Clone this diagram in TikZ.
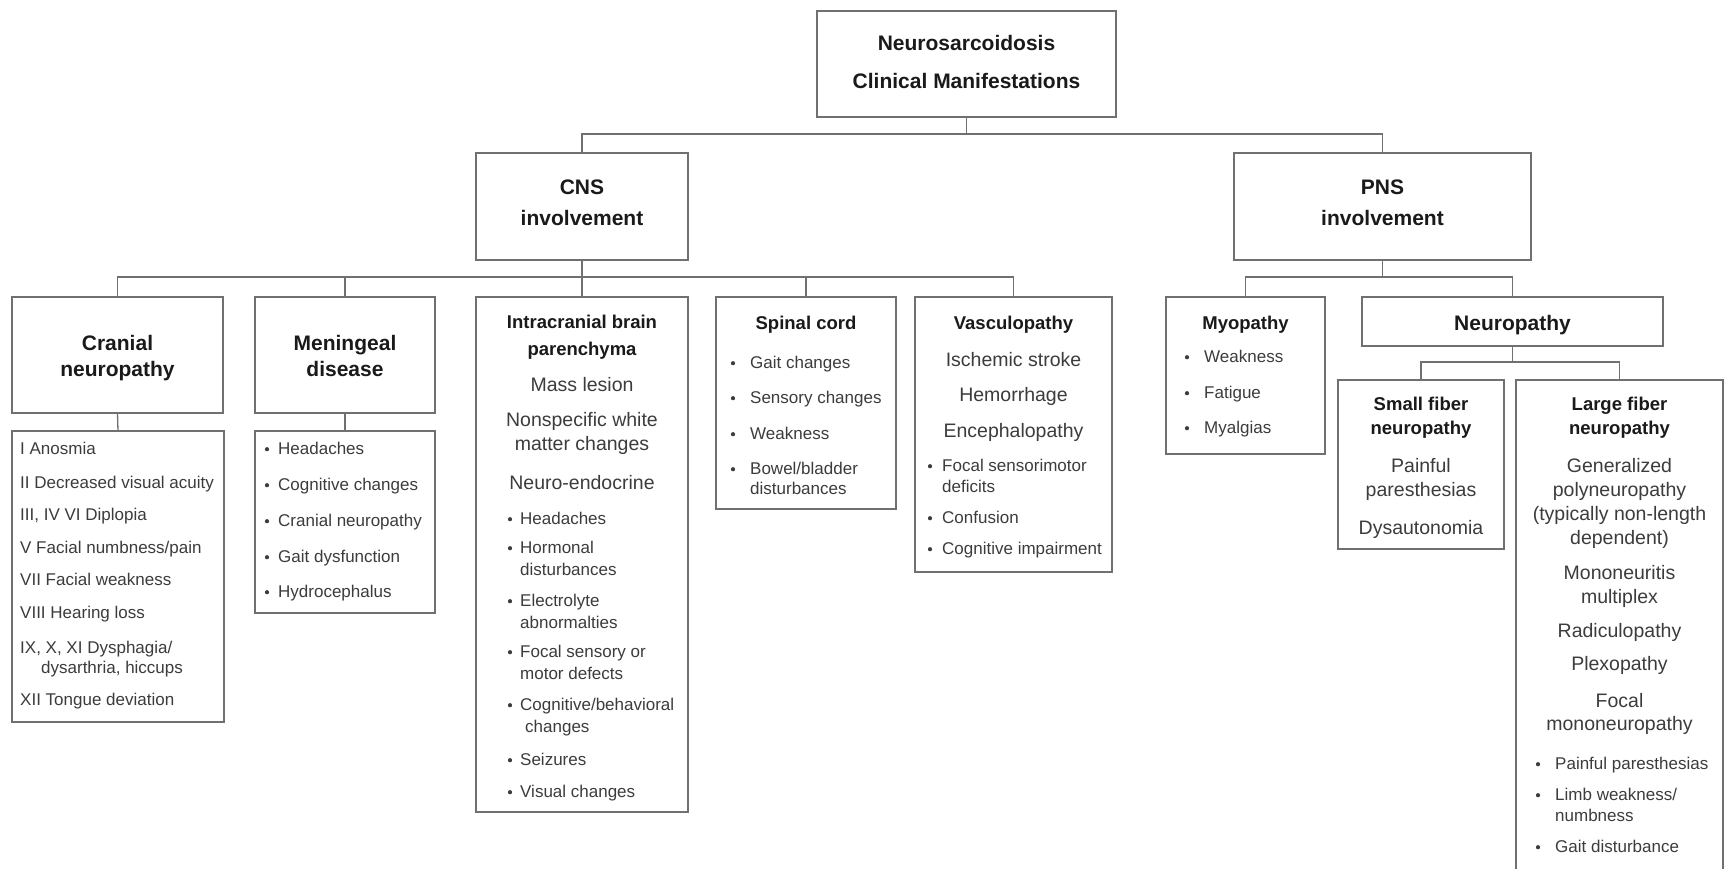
\documentclass[tikz,border=0pt]{standalone}
\usepackage{fontspec}
\setmainfont{Liberation Sans}
\definecolor{ln}{HTML}{707070}
\definecolor{tx}{HTML}{3C3C3C}
\definecolor{hx}{HTML}{1A1A1A}
\tikzset{
  box/.style={draw=ln, line width=1.3pt, fill=white, anchor=north west, inner sep=0pt, outer sep=0pt},
  conn/.style={draw=ln, line width=1.3pt},
  hdL/.style={font=\bfseries\fontsize{21}{24}\selectfont, text=hx, anchor=base, inner sep=0pt},
  hdS/.style={font=\bfseries\fontsize{18.5}{22}\selectfont, text=hx, anchor=base, inner sep=0pt},
  ct/.style={font=\fontsize{19.5}{23}\selectfont, text=tx, anchor=base, inner sep=0pt},
  li/.style={font=\fontsize{17}{20}\selectfont, text=tx, anchor=base west, inner sep=0pt},
}
\newcommand\pitem[4]{\node[li] (#1) at (#2,-#3) {#4};}
\newcommand\bitem[5]{\fill[tx] (#2,-#4+4.8) circle (2.1pt); \node[li] (#1) at (#3,-#4) {#5};}
\newcommand\citem[5]{\node[#2] (#1) at (#3,-#4) {#5};}
\begin{document}
\begin{tikzpicture}[x=1pt,y=1pt]
\useasboundingbox (0,0) rectangle (1725,-868);
\fill[white] (0,0) rectangle (1725,-868);
\clip (0,0) rectangle (1725,-868);

% boxes
\node[box, minimum width=299pt, minimum height=106pt] (root) at (817,-11) {};
\node[box, minimum width=212pt, minimum height=107pt] (cns) at (476,-153) {};
\node[box, minimum width=297pt, minimum height=107pt] (pns) at (1234,-153) {};
\node[box, minimum width=211pt, minimum height=116pt] (cran) at (12,-297) {};
\node[box, minimum width=212pt, minimum height=291pt] (cranL) at (12,-431) {};
\node[box, minimum width=180pt, minimum height=116pt] (men) at (255,-297) {};
\node[box, minimum width=180pt, minimum height=182pt] (menL) at (255,-431) {};
\node[box, minimum width=212pt, minimum height=515pt] (intra) at (476,-297) {};
\node[box, minimum width=180pt, minimum height=212pt] (spin) at (716,-297) {};
\node[box, minimum width=197pt, minimum height=275pt] (vasc) at (915,-297) {};
\node[box, minimum width=159pt, minimum height=157pt] (myo) at (1166,-297) {};
\node[box, minimum width=301pt, minimum height=49pt] (neu) at (1362,-297) {};
\node[box, minimum width=166pt, minimum height=169pt] (small) at (1338,-380) {};
\node[box, minimum width=207pt, minimum height=510pt] (large) at (1516,-380) {};

% connectors
\coordinate (j0) at (0,-134);
\coordinate (j1) at (0,-277);
\coordinate (j2) at (0,-362);
\draw[conn] (root.south) -- (root.south |- j0);
\draw[conn] (cns.north) |- (j0 -| pns.north) -- (pns.north);
\draw[conn] (cns.south) -- (intra.north);
\draw[conn] (cran.north) |- (j1 -| vasc.north) -- (vasc.north);
\draw[conn] (men.north) -- (men.north |- j1);
\draw[conn] (spin.north) -- (spin.north |- j1);
\draw[conn] (cran.south) -- (cranL.north);
\draw[conn] (men.south) -- (menL.north);
\draw[conn] (pns.south) -- (pns.south |- j1);
\draw[conn] (myo.north) |- (j1 -| neu.north) -- (neu.north);
\draw[conn] (neu.south) -- (neu.south |- j2);
\draw[conn] (small.north) |- (j2 -| large.north) -- (large.north);

% root
\citem{r1}{hdL}{966.5}{50}{Neurosarcoidosis}
\citem{r2}{hdL}{966.5}{88}{Clinical Manifestations}
% CNS / PNS
\citem{cn1}{hdL}{582}{194}{CNS}
\citem{cn2}{hdL}{582}{225}{involvement}
\citem{pn1}{hdL}{1382.5}{194}{PNS}
\citem{pn2}{hdL}{1382.5}{225}{involvement}

% cranial neuropathy
\citem{cr1}{hdL}{117.5}{350}{Cranial}
\citem{cr2}{hdL}{117.5}{376}{neuropathy}
\pitem{c1}{20}{454}{I Anosmia}
\pitem{c2}{20}{488}{II Decreased visual acuity}
\pitem{c3}{20}{520}{III, IV VI Diplopia}
\pitem{c4}{20}{553}{V Facial numbness/pain}
\pitem{c5}{20}{585}{VII Facial weakness}
\pitem{c6}{20}{618}{VIII Hearing loss}
\pitem{c7}{20}{653}{IX, X, XI Dysphagia/}
\pitem{c7b}{41}{673}{dysarthria, hiccups}
\pitem{c8}{20}{705}{XII Tongue deviation}

% meningeal disease
\citem{me1}{hdL}{345}{350}{Meningeal}
\citem{me2}{hdL}{345}{376}{disease}
\bitem{m1}{267}{278}{454}{Headaches}
\bitem{m2}{267}{278}{490}{Cognitive changes}
\bitem{m3}{267}{278}{526}{Cranial neuropathy}
\bitem{m4}{267}{278}{562}{Gait dysfunction}
\bitem{m5}{267}{278}{597}{Hydrocephalus}

% intracranial
\citem{in1}{hdS}{582}{328.5}{Intracranial brain}
\citem{in2}{hdS}{582}{355}{parenchyma}
\citem{in3}{ct}{582}{391}{Mass lesion}
\citem{in4}{ct}{582}{426}{Nonspecific white}
\citem{in5}{ct}{582}{450}{matter changes}
\citem{in6}{ct}{582}{489}{Neuro-endocrine}
\bitem{i1}{510}{520}{524}{Headaches}
\bitem{i2}{510}{520}{553}{Hormonal}
\pitem{i2b}{520}{575}{disturbances}
\bitem{i3}{510}{520}{606}{Electrolyte}
\pitem{i3b}{520}{628}{abnormalties}
\bitem{i4}{510}{520}{657}{Focal sensory or}
\pitem{i4b}{520}{679}{motor defects}
\bitem{i5}{510}{520}{710}{Cognitive/behavioral}
\pitem{i5b}{525}{732}{changes}
\bitem{i6}{510}{520}{765}{Seizures}
\bitem{i7}{510}{520}{797}{Visual changes}

% spinal cord
\citem{sp0}{hdS}{806}{329.5}{Spinal cord}
\bitem{s1}{733}{750}{368}{Gait changes}
\bitem{s2}{733}{750}{403}{Sensory changes}
\bitem{s3}{733}{750}{439}{Weakness}
\bitem{s4}{733}{750}{474}{Bowel/bladder}
\pitem{s4b}{750}{494}{disturbances}

% vasculopathy
\citem{va0}{hdS}{1013.5}{329.5}{Vasculopathy}
\citem{va1}{ct}{1013.5}{366}{Ischemic stroke}
\citem{va2}{ct}{1013.5}{401}{Hemorrhage}
\citem{va3}{ct}{1013.5}{437}{Encephalopathy}
\bitem{v1}{930}{942}{471}{Focal sensorimotor}
\pitem{v1b}{942}{492}{deficits}
\bitem{v2}{930}{942}{523}{Confusion}
\bitem{v3}{930}{942}{554}{Cognitive impairment}

% myopathy
\citem{my0}{hdS}{1245.5}{329.5}{Myopathy}
\bitem{y1}{1187}{1204}{362}{Weakness}
\bitem{y2}{1187}{1204}{398}{Fatigue}
\bitem{y3}{1187}{1204}{433}{Myalgias}

% neuropathy
\citem{ne0}{hdL}{1512.5}{330}{Neuropathy}

% small fiber
\citem{sf1}{hdS}{1421}{410.5}{Small fiber}
\citem{sf2}{hdS}{1421}{434.5}{neuropathy}
\citem{sf3}{ct}{1421}{472}{Painful}
\citem{sf4}{ct}{1421}{496}{paresthesias}
\citem{sf5}{ct}{1421}{534}{Dysautonomia}

% large fiber
\citem{lf1}{hdS}{1619.5}{410.5}{Large fiber}
\citem{lf2}{hdS}{1619.5}{434.5}{neuropathy}
\citem{lf3}{ct}{1619.5}{472}{Generalized}
\citem{lf4}{ct}{1619.5}{496}{polyneuropathy}
\citem{lf5}{ct}{1619.5}{520}{(typically non-length}
\citem{lf6}{ct}{1619.5}{544}{dependent)}
\citem{lf7}{ct}{1619.5}{579}{Mononeuritis}
\citem{lf8}{ct}{1619.5}{603}{multiplex}
\citem{lf9}{ct}{1619.5}{637}{Radiculopathy}
\citem{lf10}{ct}{1619.5}{670}{Plexopathy}
\citem{lf11}{ct}{1619.5}{707}{Focal}
\citem{lf12}{ct}{1619.5}{730}{mononeuropathy}
\bitem{l1}{1538}{1555}{769}{Painful paresthesias}
\bitem{l2}{1538}{1555}{800}{Limb weakness/}
\pitem{l2b}{1555}{821}{numbness}
\bitem{l3}{1538}{1555}{852}{Gait disturbance}
\end{tikzpicture}
\end{document}
